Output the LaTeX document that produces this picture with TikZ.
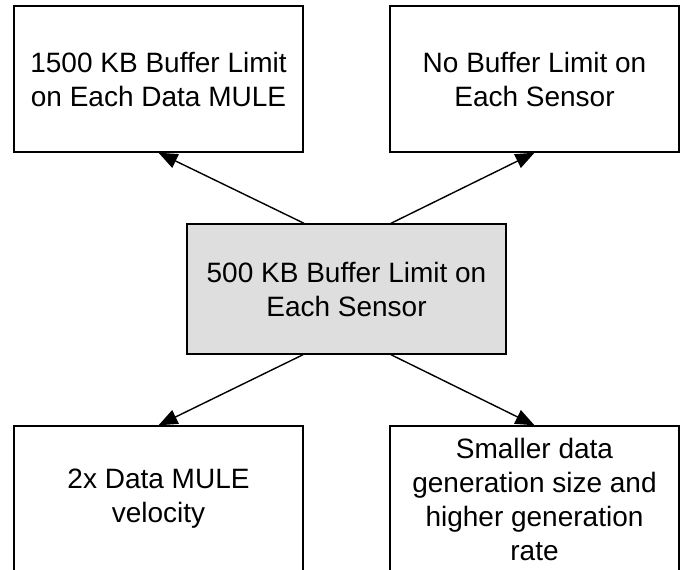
\documentclass[tikz,border=0pt]{standalone}
\usepackage{fontspec}
\setmainfont{Liberation Sans}
\usetikzlibrary{arrows.meta}
\tikzset{
  box/.style={draw=black, line width=1.4pt, fill=white, minimum width=289pt, minimum height=146pt, inner sep=0pt, align=center, font=\fontsize{28}{34}\selectfont},
  mainbox/.style={box, fill=black!13, minimum width=319pt, minimum height=130pt},
  arr/.style={line width=1.4pt, -{Triangle[length=19pt,width=15pt]}}
}
\begin{document}
\begin{tikzpicture}[x=1pt,y=-1pt]
\clip (0,0) rectangle (688,570);
\fill[white] (0,0) rectangle (688,570);
\node[box] (tl) at (158.5,79) {1500 KB Buffer Limit\\on Each Data MULE};
\node[box] (tr) at (534.5,79) {No Buffer Limit on\\Each Sensor};
\node[mainbox] (c) at (346.5,289) {500 KB Buffer Limit on\\Each Sensor};
\node[box] (bl) at (158.5,499) {2x Data MULE\\velocity};
\node[box] (br) at (534.5,499) {Smaller data\\generation size and\\higher generation\\rate};
\draw[arr] ([xshift=-42.5pt]c.north) -- (tl.south);
\draw[arr] ([xshift=44.5pt]c.north) -- (tr.south);
\draw[arr] ([xshift=-43.5pt]c.south) -- (bl.north);
\draw[arr] ([xshift=44.5pt]c.south) -- (br.north);
\end{tikzpicture}
\end{document}
